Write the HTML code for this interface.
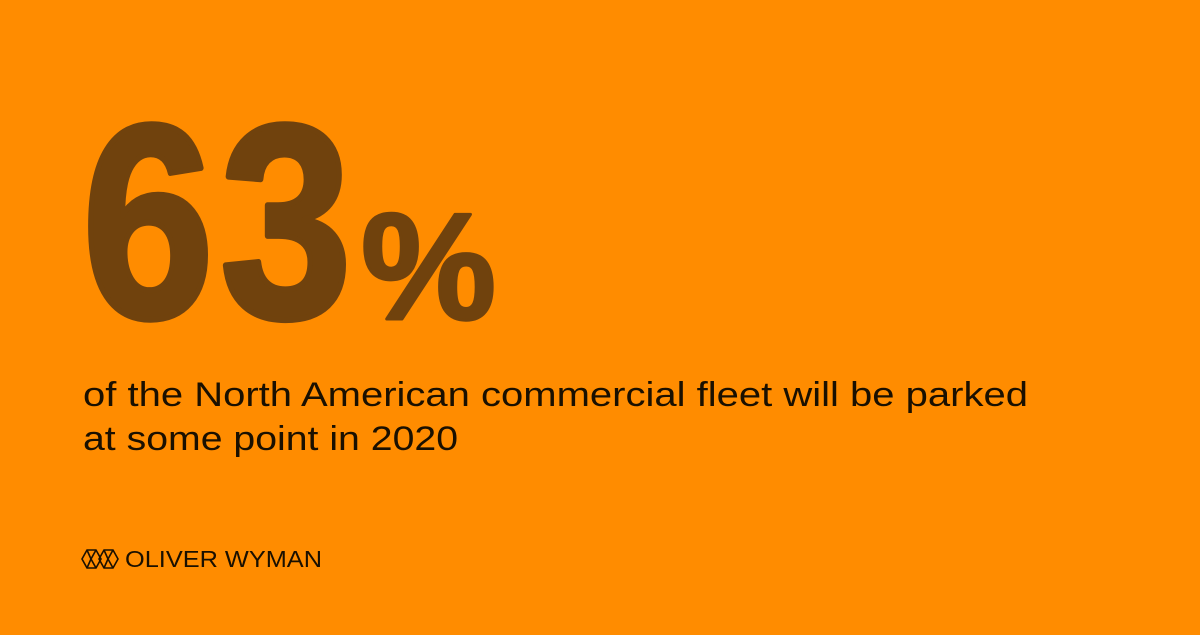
<!DOCTYPE html>
<html><head><meta charset="utf-8"><style>
html,body{margin:0;padding:0}
body{width:1200px;height:630px;background:#FF8C00;overflow:hidden}
</style></head><body>
<svg width="1200" height="630" viewBox="0 0 1200 630" xmlns="http://www.w3.org/2000/svg">
<rect width="1200" height="630" fill="#FF8C00"/>
<g fill="#70420D" stroke="#70420D" stroke-width="6" stroke-linejoin="round" font-family="Liberation Sans, sans-serif" font-weight="bold">
<text x="0" y="0" font-size="276" transform="translate(82,317) scale(0.86,1)">6</text>
<text x="0" y="0" font-size="276" transform="translate(220,317) scale(0.86,1)">3</text>
<text x="0" y="0" font-size="152" stroke-width="3" transform="translate(361,319) scale(1.0,1)">%</text>
</g>
<g fill="#1A1000" font-family="Liberation Sans, sans-serif" font-size="34">
<text x="83" y="406" textLength="945" lengthAdjust="spacingAndGlyphs">of the North American commercial fleet will be parked</text>
<text x="83" y="450" textLength="375" lengthAdjust="spacingAndGlyphs">at some point in 2020</text>
</g>
<g stroke="#1A1000" stroke-width="1.6" fill="none">
<polygon points="82,559 87,550 96,550 101,559 96,568 87,568"/>
<polygon points="99,559 104,550 113,550 118,559 113,568 104,568"/>
<polyline points="87,550 91,559 87,568"/>
<polyline points="96,550 91,559 96,568"/>
<polyline points="104,550 108,559 104,568"/>
<polyline points="113,550 108,559 113,568"/>
</g>
<text x="125" y="567" font-family="Liberation Sans, sans-serif" font-size="23" fill="#1A1000" textLength="197" lengthAdjust="spacingAndGlyphs">OLIVER WYMAN</text>
</svg>
</body></html>
